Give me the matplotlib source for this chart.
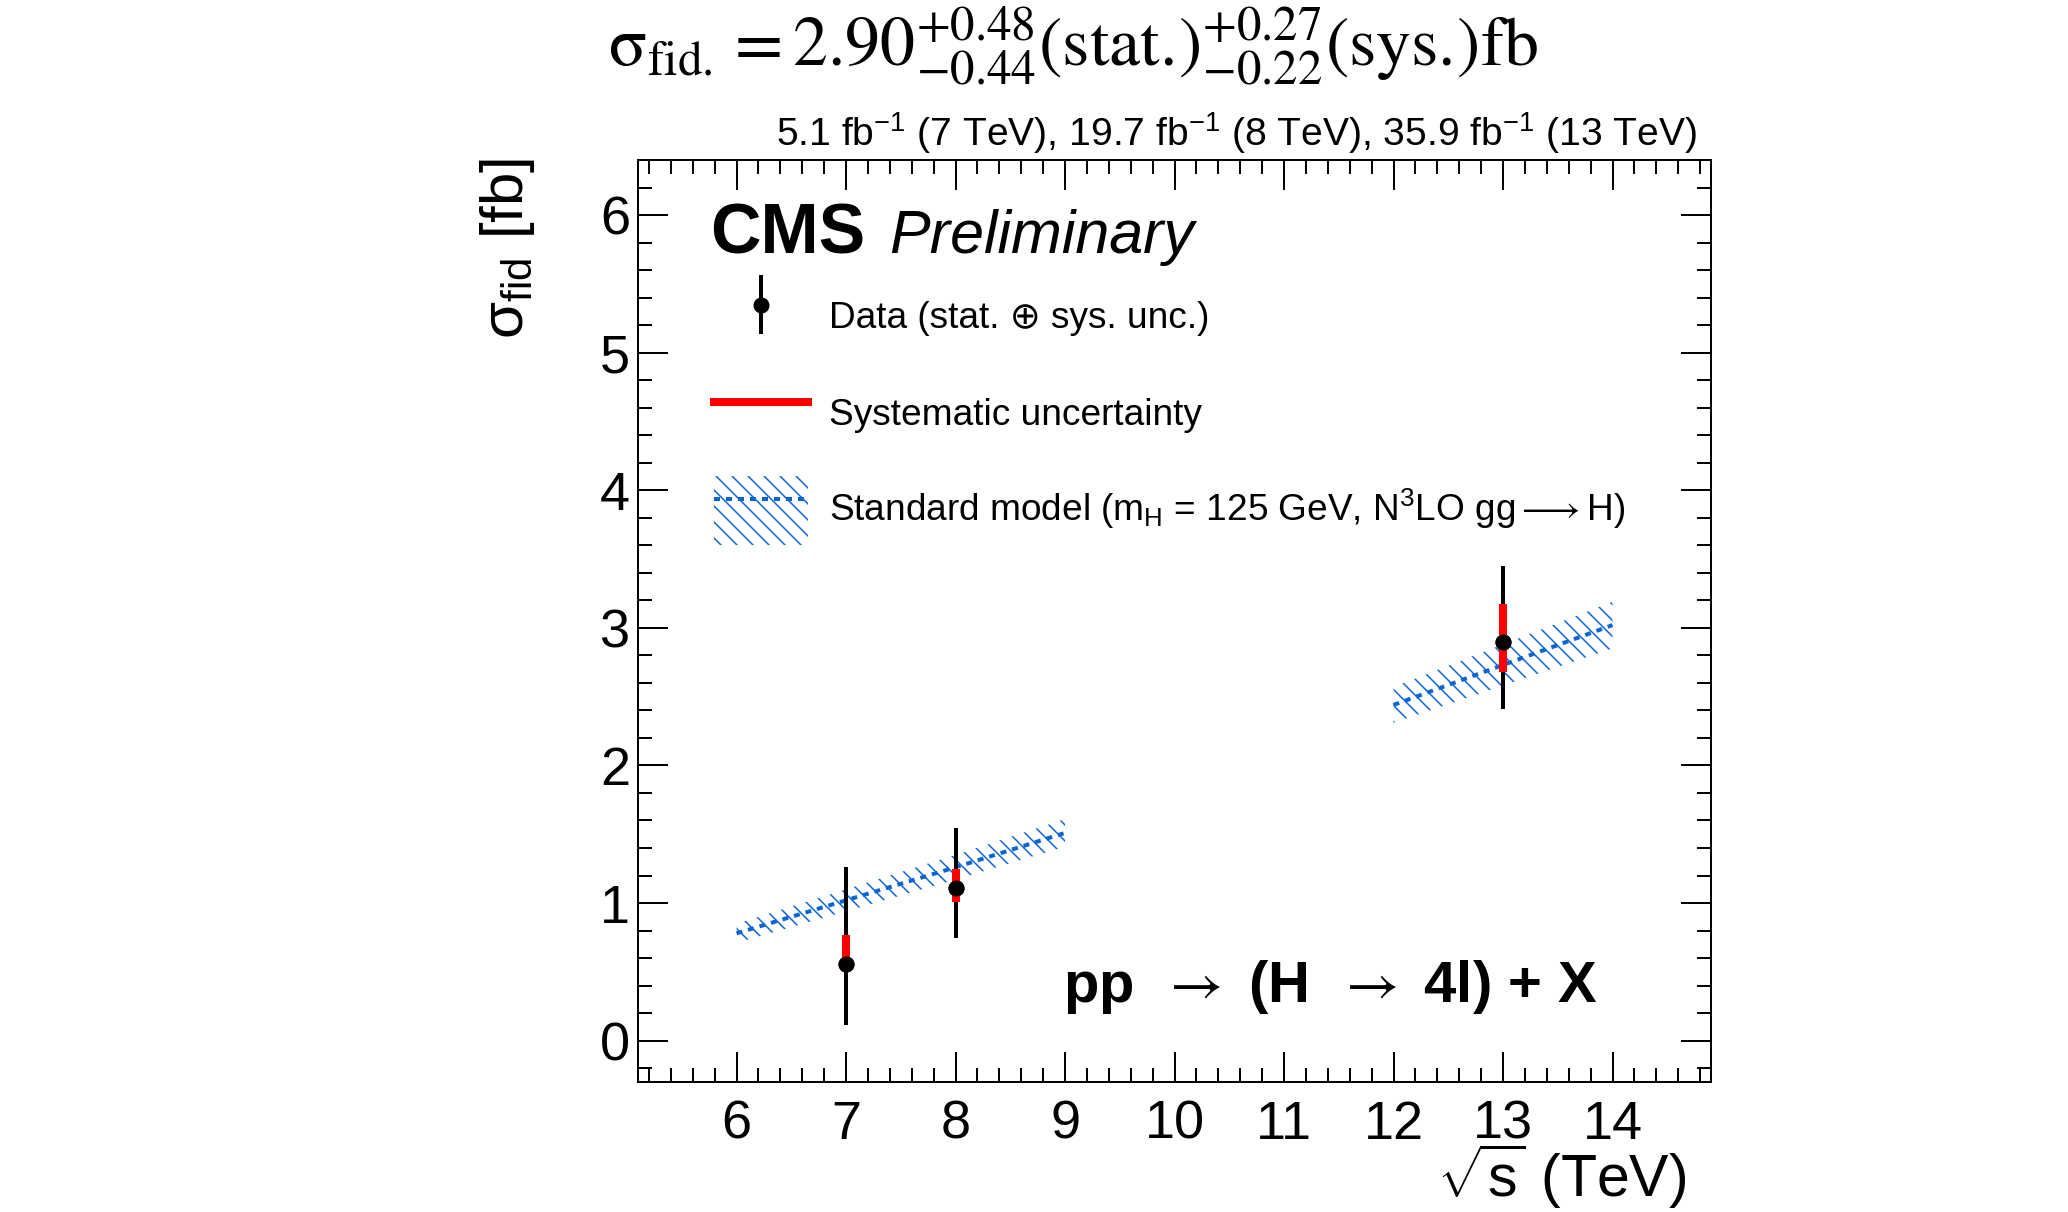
import numpy as np
import matplotlib
matplotlib.use('Agg')
import matplotlib.pyplot as plt
from matplotlib.patches import Patch
from matplotlib.lines import Line2D
from matplotlib.legend_handler import HandlerTuple, HandlerErrorbar
from matplotlib.ticker import MultipleLocator

plt.rcParams['font.family'] = ['Liberation Sans', 'DejaVu Sans']
plt.rcParams['mathtext.fontset'] = 'custom'
plt.rcParams['mathtext.rm'] = 'Liberation Sans'
plt.rcParams['mathtext.it'] = 'Liberation Sans:italic'
plt.rcParams['mathtext.bf'] = 'Liberation Sans:bold'
plt.rcParams['hatch.linewidth'] = 0.75

# measured fiducial cross sections
sqrt_s = [7, 8, 13]
xsec = [0.56, 1.11, 2.90]
stat_up = [0.67, 0.41, 0.48]
stat_dn = [0.44, 0.35, 0.44]
sys_up = [0.21, 0.14, 0.27]
sys_dn = [0.06, 0.10, 0.22]

# SM prediction bands (N3LO ggH)
sm_low_x = [6, 7, 8, 9]
sm_low_y = [0.78, 1.02, 1.26, 1.51]
sm_low_err = [0.07, 0.08, 0.09, 0.10]
sm_high_x = [12, 13, 14]
sm_high_y = [2.44, 2.73, 3.02]
sm_high_err = [0.13, 0.15, 0.17]

blue = '#0a64d2'
hatch = '\\\\\\'

tot_up = np.hypot(stat_up, sys_up)
tot_dn = np.hypot(stat_dn, sys_dn)

dpi = 144
fig = plt.figure(figsize=(2068 / dpi, 1212 / dpi), dpi=dpi)
ax = fig.add_axes([0.3085, 0.1073, 0.5189, 0.7607])

# SM bands
for bx, by, be in [(sm_low_x, sm_low_y, sm_low_err), (sm_high_x, sm_high_y, sm_high_err)]:
    bx = np.array(bx); by = np.array(by); be = np.array(be)
    ax.fill_between(bx, by - be, by + be, facecolor='none', edgecolor=blue,
                    hatch=hatch, linewidth=0, zorder=1)
    ax.plot(bx, by, color=blue, lw=2, ls=(0, (1.5, 1.5)), zorder=2)

# data
h_data = ax.errorbar(sqrt_s, xsec, yerr=[tot_dn, tot_up], fmt='o', color='black',
                     ms=7, lw=2, capsize=0, zorder=3)
ax.errorbar(sqrt_s, xsec, yerr=[sys_dn, sys_up], fmt='none', ecolor='red',
            lw=4, capsize=0, zorder=4)
ax.plot(sqrt_s, xsec, 'o', color='black', ms=7, zorder=5)

ax.set_xlim(5.1, 14.9)
ax.set_ylim(-0.3, 6.4)
ax.xaxis.set_major_locator(MultipleLocator(1))
ax.xaxis.set_minor_locator(MultipleLocator(0.2))
ax.yaxis.set_major_locator(MultipleLocator(1))
ax.yaxis.set_minor_locator(MultipleLocator(0.2))
ax.tick_params(which='both', direction='in', top=True, right=True, width=1)
ax.tick_params(which='major', length=15, labelsize=27)
ax.tick_params(which='minor', length=7)
ax.tick_params(axis='x', which='major', pad=9)
ax.tick_params(axis='y', which='major', pad=4)
for s in ax.spines.values():
    s.set_linewidth(1)

# legend
h_sys = Line2D([], [], color='red', lw=4)
h_sm = (Patch(facecolor='none', edgecolor=blue, hatch=hatch, linewidth=0),
        Line2D([], [], color=blue, lw=2, ls=(0, (1.5, 1.5))))
ax.legend([h_data, h_sys, h_sm],
          ['Data (stat. \u2295 sys. unc.)', 'Systematic uncertainty',
           r'Standard model (m$_{\rm H}$ = 125 GeV, N$^{3}$LO gg$\longrightarrow$H)'],
          handler_map={type(h_data): HandlerErrorbar(yerr_size=0.8),
                       tuple: HandlerTuple(ndivide=1, pad=0)},
          loc='upper left', bbox_to_anchor=(0.0708, 0.868), frameon=False,
          borderaxespad=0, borderpad=0, fontsize=18.5, handleheight=2.5,
          handlelength=2.55, handletextpad=0.55, labelspacing=0.75)

ax.text(0.067, 0.899, 'CMS', transform=ax.transAxes, fontsize=35,
        fontweight='bold', va='baseline')
ax.text(0.234, 0.899, 'Preliminary', transform=ax.transAxes, fontsize=30.5,
        fontstyle='italic', va='baseline')
ax.text(0.396, 0.087, r'pp $\;\rightarrow$ (H $\;\rightarrow$ 4l) + X',
        transform=ax.transAxes, fontsize=29, fontweight='bold', va='baseline',
        math_fontfamily='stix')

fig.text(0.519, 0.962,
         r'$\mathrm{\sigma}_{\mathrm{fid.}} = 2.90^{+0.48}_{-0.44}\mathrm{(stat.\!)}^{+0.27}_{-0.22}\mathrm{(sys.\!)fb}$',
         math_fontfamily='stix', fontsize=35, ha='center', va='center')
fig.text(0.8206, 0.880,
         r'5.1 fb$^{-1}$ (7 TeV), 19.7 fb$^{-1}$ (8 TeV), 35.9 fb$^{-1}$ (13 TeV)',
         fontsize=19.5, ha='right', va='baseline')
fig.text(0.8153, 1 - 1197 / 1212, r'$\sqrt{\mathrm{s}}$ (TeV)', fontsize=29.5,
         ha='right', va='baseline')
fig.text(0.2456, 1 - 158 / 1212, '\u03c3$_{\\rm fid}$ [fb]', fontsize=30,
         rotation=90, ha='center', va='top')

fig.savefig('out.png', dpi=dpi)
